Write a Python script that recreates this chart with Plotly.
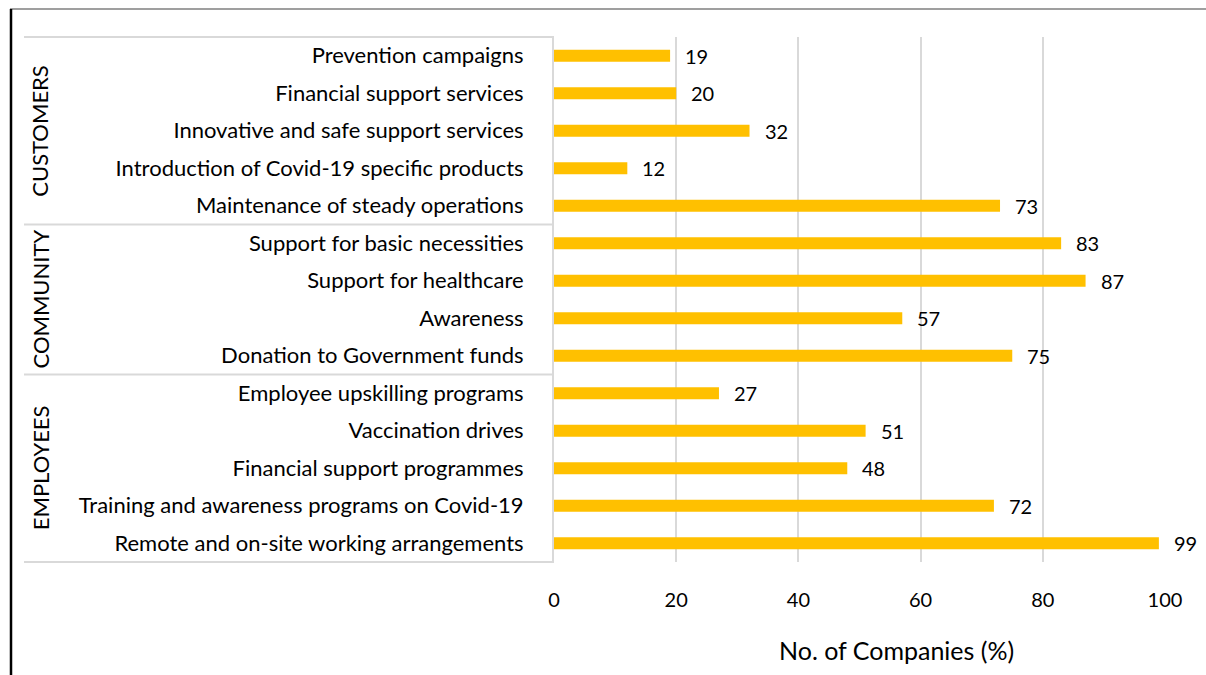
import plotly.graph_objects as go

# Data (bottom to top)
categories = [
    "Remote and on-site working arrangements",
    "Training and awareness programs on Covid-19",
    "Financial support programmes",
    "Vaccination drives",
    "Employee upskilling programs",
    "Donation to Government funds",
    "Awareness",
    "Support for healthcare",
    "Support for basic necessities",
    "Maintenance of steady operations",
    "Introduction of Covid-19 specific products",
    "Innovative and safe support services",
    "Financial support services",
    "Prevention campaigns",
]
values = [99, 72, 48, 51, 27, 75, 57, 87, 83, 73, 12, 32, 20, 19]
group_names = ["EMPLOYEES", "COMMUNITY", "CUSTOMERS"]
group_sizes = [5, 4, 5]
x_ticks = [0, 20, 40, 60, 80, 100]
x_title = "No. of Companies (%)"

FONT = "Lato"
W, H = 1206, 675
ml, mr, mt, mb = 554, 41, 37, 113
pw = W - ml - mr
ph = H - mt - mb

def px2paper_x(px):
    return (px - ml) / pw

def px2paper_y(py):
    return 1 - (py - mt) / ph

fig = go.Figure()
fig.add_trace(go.Bar(
    x=values, y=categories, orientation="h",
    marker=dict(color="#FFC000", line=dict(width=0)),
    width=0.32, hoverinfo="x+y",
))

n = len(categories)
annotations = []
for c, v in zip(categories, values):
    annotations.append(dict(x=v, y=c, xref="x", yref="y", text=str(v),
                            showarrow=False, xanchor="left", yanchor="middle",
                            xshift=13,
                            font=dict(family=FONT, size=20, color="#000000")))

shapes = []
start = 0
bounds = [0]
for s in group_sizes:
    start += s
    bounds.append(start)
for b in bounds:
    yp = b / n
    shapes.append(dict(type="line", xref="paper", yref="paper",
                       x0=px2paper_x(24), x1=0, y0=yp, y1=yp,
                       line=dict(color="#d9d9d9", width=2)))
for i, g in enumerate(group_names):
    yc = (bounds[i] + bounds[i + 1]) / 2 / n
    annotations.append(dict(x=px2paper_x(40), y=yc, xref="paper", yref="paper",
                            text=g, textangle=-90, showarrow=False,
                            xanchor="center", yanchor="middle",
                            font=dict(family=FONT, size=22, color="#000000")))

# axis title (offset like the reference)
annotations.append(dict(x=px2paper_x(896), y=px2paper_y(650), xref="paper", yref="paper",
                        text=x_title, showarrow=False, xanchor="center", yanchor="middle",
                        font=dict(family=FONT, size=25, color="#000000")))

# outer frame
shapes.append(dict(type="line", xref="paper", yref="paper",
                   x0=px2paper_x(10), x1=px2paper_x(1206), y0=px2paper_y(9), y1=px2paper_y(9),
                   line=dict(color="#7f7f7f", width=1.5)))
shapes.append(dict(type="line", xref="paper", yref="paper",
                   x0=px2paper_x(11), x1=px2paper_x(11), y0=px2paper_y(9), y1=px2paper_y(676),
                   line=dict(color="#000000", width=2.5)))

fig.update_layout(
    width=W, height=H,
    margin=dict(l=ml, r=mr, t=mt, b=mb),
    paper_bgcolor="white", plot_bgcolor="white",
    showlegend=False,
    font=dict(family=FONT, size=20, color="#000000"),
    xaxis=dict(range=[0, 100], tickvals=x_ticks, showgrid=True,
               gridcolor="#d9d9d9", gridwidth=1.5, zeroline=False,
               showline=False, ticks="", ticklabelstandoff=24,
               tickfont=dict(family=FONT, size=20, color="#000000")),
    yaxis=dict(categoryorder="array", categoryarray=categories,
               range=[-0.5, n - 0.5], showgrid=False, zeroline=False,
               showline=True, linecolor="#d9d9d9", linewidth=2,
               ticks="", ticklabelstandoff=24,
               tickfont=dict(family=FONT, size=22, color="#000000")),
    shapes=shapes,
    annotations=annotations,
)

fig.write_html("out.html")
